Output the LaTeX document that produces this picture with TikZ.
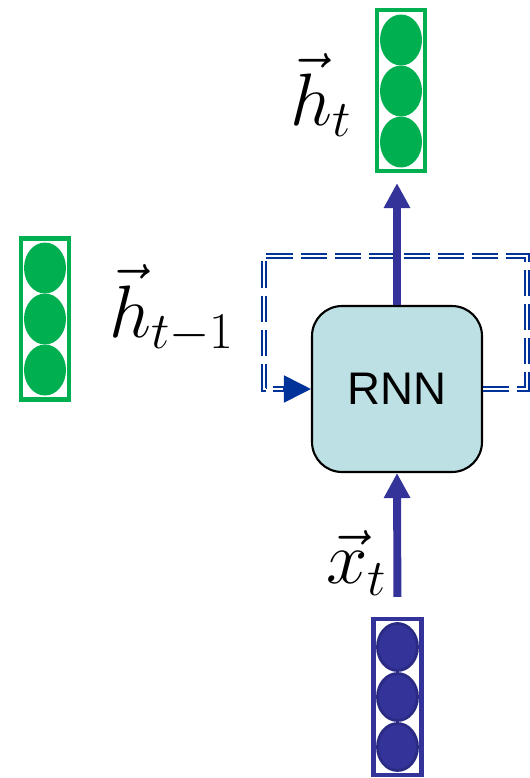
\documentclass[tikz,border=0pt]{standalone}
\usepackage{fontspec}
\setsansfont{Liberation Sans}
\DeclareMathSizes{24.88}{24.88}{17.4}{12.4}
\usetikzlibrary{arrows.meta,shapes.geometric}
\definecolor{vecgreen}{HTML}{00B050}
\definecolor{vecblue}{HTML}{333399}
\definecolor{vecblueline}{HTML}{2B2B85}
\definecolor{loopblue}{HTML}{003399}
\definecolor{rnnfill}{HTML}{BCE0E3}
\begin{document}
\begin{tikzpicture}[x=0.02cm, y=-0.02cm,
  vecbox/.style={draw, line width=2.4pt, minimum width=0.96cm, minimum height=3.22cm, inner sep=0pt},
  hcell/.style={ellipse, fill=vecgreen, minimum width=0.84cm, minimum height=1.02cm, inner sep=0pt},
  xcell/.style={ellipse, fill=vecblue, draw=vecblueline, line width=1.6pt, minimum width=0.8cm, minimum height=0.94cm, inner sep=0pt},
  rnnbox/.style={draw, line width=1.2pt, fill=rnnfill, rounded corners=0.6cm, minimum width=3.4cm, minimum height=3.32cm, font=\sffamily\fontsize{26}{30}\selectfont},
  flow/.style={vecblue, line width=4.5pt, -{Triangle[length=0.5cm, width=0.5cm]}},
  recur/.style={loopblue, double, double distance=1.2pt, line width=1.1pt, dash pattern=on 15pt off 4.5pt},
  symb/.style={font=\Huge, scale=1.7, transform shape, inner sep=0pt}]
\useasboundingbox (0,0) rectangle (530,778);
% hidden state vectors
\node[vecbox, draw=vecgreen] (ht) at (401,90.5) {};
\foreach \k in {1,2,3} \node[hcell] (ht-\k) at (401,{-11+51*\k}) {};
\node[symb] (htlab) at (321,95) {$\vec{h}_t$};
\node[vecbox, draw=vecgreen] (hprev) at (45,319) {};
\foreach \k in {1,2,3} \node[hcell] (hprev-\k) at (45,{217+51*\k}) {};
\node[symb] (hprevlab) at (172,309) {$\vec{h}_{t-1}$};
% cell
\node[rnnbox] (rnn) at (397,389) {RNN};
% input vector
\node[vecbox, draw=vecblue, minimum height=3.12cm] (xt) at (397.5,697) {};
\foreach \k in {1,2,3} \node[xcell] (xt-\k) at (397.5,{597+50*\k}) {};
\node[symb] (xtlab) at (357,563) {$\vec{x}_t$};
% recurrence loop
\coordinate (loopR) at (527,256);
\coordinate (loopL) at (264,256);
\draw[recur, shorten >=0.54cm] (rnn.east) -| (loopR) -- (loopL) |- (rnn.west);
\draw[loopblue, line width=1pt, -{Triangle[length=0.54cm, width=0.54cm]}] ([xshift=-0.56cm]rnn.west) -- (rnn.west);
% data flow
\draw[flow, shorten >=0.2cm] (rnn.north) -- (rnn.north |- ht.south);
\draw[flow, shorten <=0.4cm] (xt.north) -- (rnn.south);
\end{tikzpicture}
\end{document}
